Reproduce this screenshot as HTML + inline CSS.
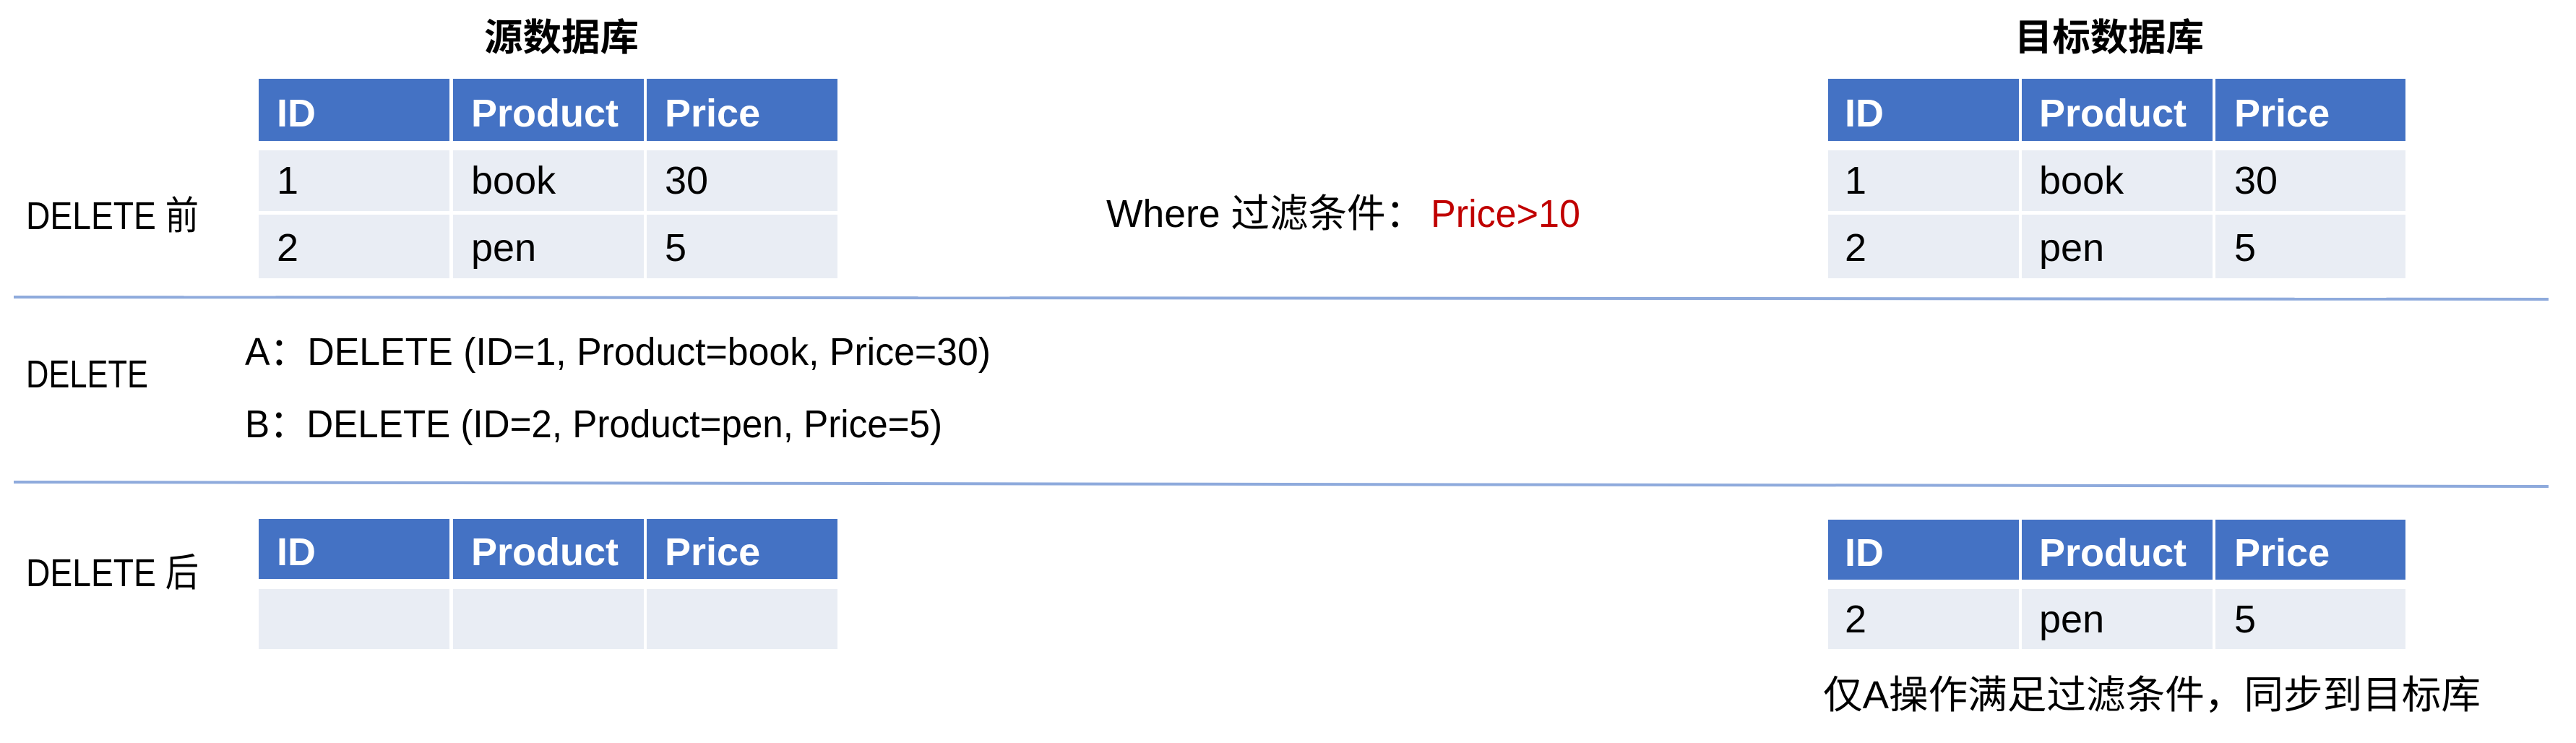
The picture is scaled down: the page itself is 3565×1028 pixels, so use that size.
<!DOCTYPE html>
<html><head><meta charset="utf-8"><style>
html,body{margin:0;padding:0;background:#fff;}
svg{display:block;}
text{font-family:"Liberation Sans","Noto Sans CJK SC",sans-serif;font-size:54px;fill:#000;}
.h{fill:#fff;font-weight:bold;}
.t{font-weight:bold;font-size:52px;}
</style></head><body>
<svg width="3565" height="1028" viewBox="0 0 3565 1028" xmlns="http://www.w3.org/2000/svg">
<!-- separator lines -->
<line x1="19" y1="411" x2="3527" y2="414" stroke="#8eaadc" stroke-width="4"/>
<line x1="19" y1="667" x2="3527" y2="673" stroke="#8eaadc" stroke-width="4"/>

<!-- titles -->
<text class="t" x="670" y="70" textLength="214" lengthAdjust="spacingAndGlyphs">源数据库</text>
<text class="t" x="2788" y="70" textLength="262" lengthAdjust="spacingAndGlyphs">目标数据库</text>

<!-- left labels -->
<text x="36" y="317" textLength="239" lengthAdjust="spacingAndGlyphs">DELETE 前</text>
<text x="36" y="536" textLength="169" lengthAdjust="spacingAndGlyphs">DELETE</text>
<text x="36" y="811" textLength="239" lengthAdjust="spacingAndGlyphs">DELETE 后</text>

<!-- operations -->
<text x="339" y="505" textLength="1032" lengthAdjust="spacingAndGlyphs">A：DELETE (ID=1, Product=book, Price=30)</text>
<text x="339" y="605" textLength="965" lengthAdjust="spacingAndGlyphs">B：DELETE (ID=2, Product=pen, Price=5)</text>

<!-- where -->
<text x="1531" y="314" textLength="440" lengthAdjust="spacingAndGlyphs">Where 过滤条件：</text>
<text x="1980" y="314" textLength="207" lengthAdjust="spacingAndGlyphs" style="fill:#c00000">Price&gt;10</text>

<!-- Source table before -->
<g>
<rect x="358" y="109" width="264" height="86" fill="#4472c4"/>
<rect x="627" y="109" width="264" height="86" fill="#4472c4"/>
<rect x="895" y="109" width="264" height="86" fill="#4472c4"/>
<text class="h" x="383" y="175">ID</text>
<text class="h" x="652" y="175">Product</text>
<text class="h" x="920" y="175">Price</text>
<rect x="358" y="208" width="264" height="84" fill="#e9edf4"/>
<rect x="627" y="208" width="264" height="84" fill="#e9edf4"/>
<rect x="895" y="208" width="264" height="84" fill="#e9edf4"/>
<text x="383" y="268">1</text><text x="652" y="268">book</text><text x="920" y="268">30</text>
<rect x="358" y="297" width="264" height="88" fill="#e9edf4"/>
<rect x="627" y="297" width="264" height="88" fill="#e9edf4"/>
<rect x="895" y="297" width="264" height="88" fill="#e9edf4"/>
<text x="383" y="361">2</text><text x="652" y="361">pen</text><text x="920" y="361">5</text>
</g>

<!-- Target table before -->
<g>
<rect x="2530" y="109" width="264" height="86" fill="#4472c4"/>
<rect x="2798" y="109" width="264" height="86" fill="#4472c4"/>
<rect x="3066" y="109" width="263" height="86" fill="#4472c4"/>
<text class="h" x="2553" y="175">ID</text>
<text class="h" x="2822" y="175">Product</text>
<text class="h" x="3092" y="175">Price</text>
<rect x="2530" y="208" width="264" height="84" fill="#e9edf4"/>
<rect x="2798" y="208" width="264" height="84" fill="#e9edf4"/>
<rect x="3066" y="208" width="263" height="84" fill="#e9edf4"/>
<text x="2553" y="268">1</text><text x="2822" y="268">book</text><text x="3092" y="268">30</text>
<rect x="2530" y="297" width="264" height="88" fill="#e9edf4"/>
<rect x="2798" y="297" width="264" height="88" fill="#e9edf4"/>
<rect x="3066" y="297" width="263" height="88" fill="#e9edf4"/>
<text x="2553" y="361">2</text><text x="2822" y="361">pen</text><text x="3092" y="361">5</text>
</g>

<!-- Source table after -->
<g>
<rect x="358" y="718" width="264" height="83" fill="#4472c4"/>
<rect x="627" y="718" width="264" height="83" fill="#4472c4"/>
<rect x="895" y="718" width="264" height="83" fill="#4472c4"/>
<text class="h" x="383" y="782">ID</text>
<text class="h" x="652" y="782">Product</text>
<text class="h" x="920" y="782">Price</text>
<rect x="358" y="815" width="264" height="83" fill="#e9edf4"/>
<rect x="627" y="815" width="264" height="83" fill="#e9edf4"/>
<rect x="895" y="815" width="264" height="83" fill="#e9edf4"/>
</g>

<!-- Target table after -->
<g>
<rect x="2530" y="719" width="264" height="83" fill="#4472c4"/>
<rect x="2798" y="719" width="264" height="83" fill="#4472c4"/>
<rect x="3066" y="719" width="263" height="83" fill="#4472c4"/>
<text class="h" x="2553" y="783">ID</text>
<text class="h" x="2822" y="783">Product</text>
<text class="h" x="3092" y="783">Price</text>
<rect x="2530" y="815" width="264" height="83" fill="#e9edf4"/>
<rect x="2798" y="815" width="264" height="83" fill="#e9edf4"/>
<rect x="3066" y="815" width="263" height="83" fill="#e9edf4"/>
<text x="2553" y="875">2</text><text x="2822" y="875">pen</text><text x="3092" y="875">5</text>
</g>

<text x="2523" y="980" textLength="910" lengthAdjust="spacingAndGlyphs">仅A操作满足过滤条件，同步到目标库</text>
</svg>
</body></html>
